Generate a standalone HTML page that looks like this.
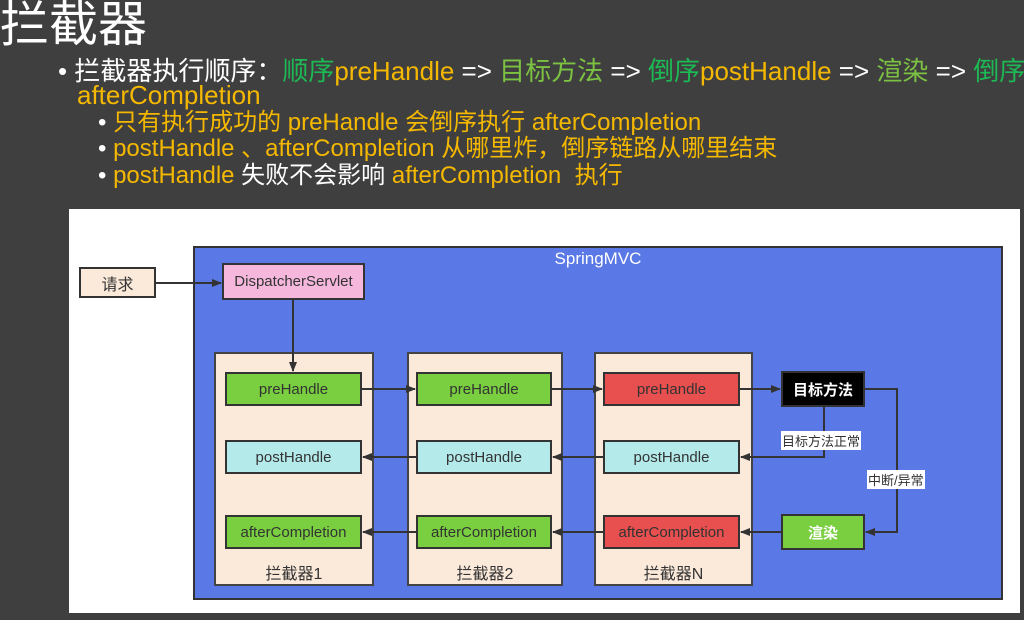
<!DOCTYPE html>
<html><head><meta charset="utf-8"><style>
body{margin:0;width:1024px;height:620px;background:#3f3f3f;overflow:hidden;position:relative;font-family:"Liberation Sans","Noto Sans CJK SC",sans-serif}
.a{position:absolute}
.t{color:#fff;font-size:49px;left:0px;top:-5px;line-height:60px}
.l{white-space:nowrap;font-size:26px;line-height:28px}
.y{color:#f5b800}.g{color:#1db954}.lg{color:#7cc242}.w{color:#fff}
.s{font-size:24px;line-height:26px}
.box{position:absolute;border:2px solid #333;box-sizing:border-box;display:flex;align-items:center;justify-content:center;font-size:15px;color:#333}
.col{position:absolute;background:#fbe9da;border:2px solid #444;box-sizing:border-box}
.cl{position:absolute;bottom:0;width:100%;text-align:center;font-size:16px;color:#333}
</style></head><body>
<div class="a t">拦截器</div>
<div class="a l w" style="left:58px;top:57px">• 拦截器执行顺序：<span class="g">顺序</span><span class="y">preHandle</span> => <span class="lg">目标方法</span> => <span class="g">倒序</span><span class="y">postHandle</span> => <span class="lg">渲染</span> => <span class="g">倒序</span></div>
<div class="a l y" style="left:77px;top:81px">afterCompletion</div>
<div class="a l s y" style="left:98px;top:110px"><span class="w">• </span>只有执行成功的 preHandle 会倒序执行 afterCompletion</div>
<div class="a l s y" style="left:98px;top:136px"><span class="w">• </span>postHandle 、afterCompletion 从哪里炸，倒序链路从哪里结束</div>
<div class="a l s y" style="left:98px;top:163px"><span class="w">• </span>postHandle <span class="w">失败不会影响</span> afterCompletion &nbsp;执行</div>
<div class="a" style="left:69px;top:209px;width:951px;height:404px;background:#fff"></div>
<div class="a" style="left:193px;top:246px;width:810px;height:354px;background:#5a78e6;border:2px solid #333;box-sizing:border-box"></div>
<div class="a" style="left:193px;top:249px;width:810px;text-align:center;color:#fff;font-size:17px">SpringMVC</div>
<div class="box" style="left:79px;top:267px;width:77px;height:31px;background:#fbe9da;font-size:16px">请求</div>
<div class="box" style="left:222px;top:263px;width:143px;height:37px;background:#f5b8dc">DispatcherServlet</div>
<div class="col" style="left:214px;top:352px;width:160px;height:234px"><div class="cl">拦截器1</div></div>
<div class="col" style="left:407px;top:352px;width:156px;height:234px"><div class="cl">拦截器2</div></div>
<div class="col" style="left:594px;top:352px;width:159px;height:234px"><div class="cl">拦截器N</div></div>
<div class="box" style="left:225px;top:372px;width:137px;height:34px;background:#79cf3f">preHandle</div>
<div class="box" style="left:225px;top:440px;width:137px;height:34px;background:#b4eaea">postHandle</div>
<div class="box" style="left:225px;top:515px;width:137px;height:34px;background:#79cf3f">afterCompletion</div>
<div class="box" style="left:416px;top:372px;width:136px;height:34px;background:#79cf3f">preHandle</div>
<div class="box" style="left:416px;top:440px;width:136px;height:34px;background:#b4eaea">postHandle</div>
<div class="box" style="left:416px;top:515px;width:136px;height:34px;background:#79cf3f">afterCompletion</div>
<div class="box" style="left:603px;top:372px;width:137px;height:34px;background:#e84f4f">preHandle</div>
<div class="box" style="left:603px;top:440px;width:137px;height:34px;background:#b4eaea">postHandle</div>
<div class="box" style="left:603px;top:515px;width:137px;height:34px;background:#e84f4f">afterCompletion</div>
<div class="box" style="left:781px;top:371px;width:84px;height:36px;background:#000;color:#fff;font-weight:bold">目标方法</div>
<div class="box" style="left:781px;top:514px;width:84px;height:36px;background:#79cf3f;color:#fff;font-weight:bold">渲染</div>
<svg class="a" style="left:0;top:0" width="1024" height="620">
<defs><marker id="m" markerWidth="10" markerHeight="8" refX="9" refY="4" orient="auto" markerUnits="userSpaceOnUse"><path d="M0,0L10,4L0,8z" fill="#333"/></marker></defs>
<g stroke="#333" stroke-width="2" fill="none" marker-end="url(#m)">
<line x1="156" y1="283" x2="221" y2="283"/>
<line x1="293" y1="300" x2="293" y2="371"/>
<line x1="362" y1="389" x2="415" y2="389"/>
<line x1="552" y1="389" x2="602" y2="389"/>
<line x1="740" y1="389" x2="780" y2="389"/>
<path d="M824,407V457H741"/>
<line x1="603" y1="457" x2="553" y2="457"/>
<line x1="416" y1="457" x2="363" y2="457"/>
<path d="M865,389H897V532H866"/>
<line x1="781" y1="532" x2="741" y2="532"/>
<line x1="603" y1="532" x2="553" y2="532"/>
<line x1="416" y1="532" x2="363" y2="532"/>
</g></svg>
<div class="a" style="left:781px;top:431px;background:#fff;font-size:13px;color:#333;padding:0 1px">目标方法正常</div>
<div class="a" style="left:867px;top:470px;background:#fff;font-size:13px;color:#333;padding:0 1px">中断/异常</div>
</body></html>
